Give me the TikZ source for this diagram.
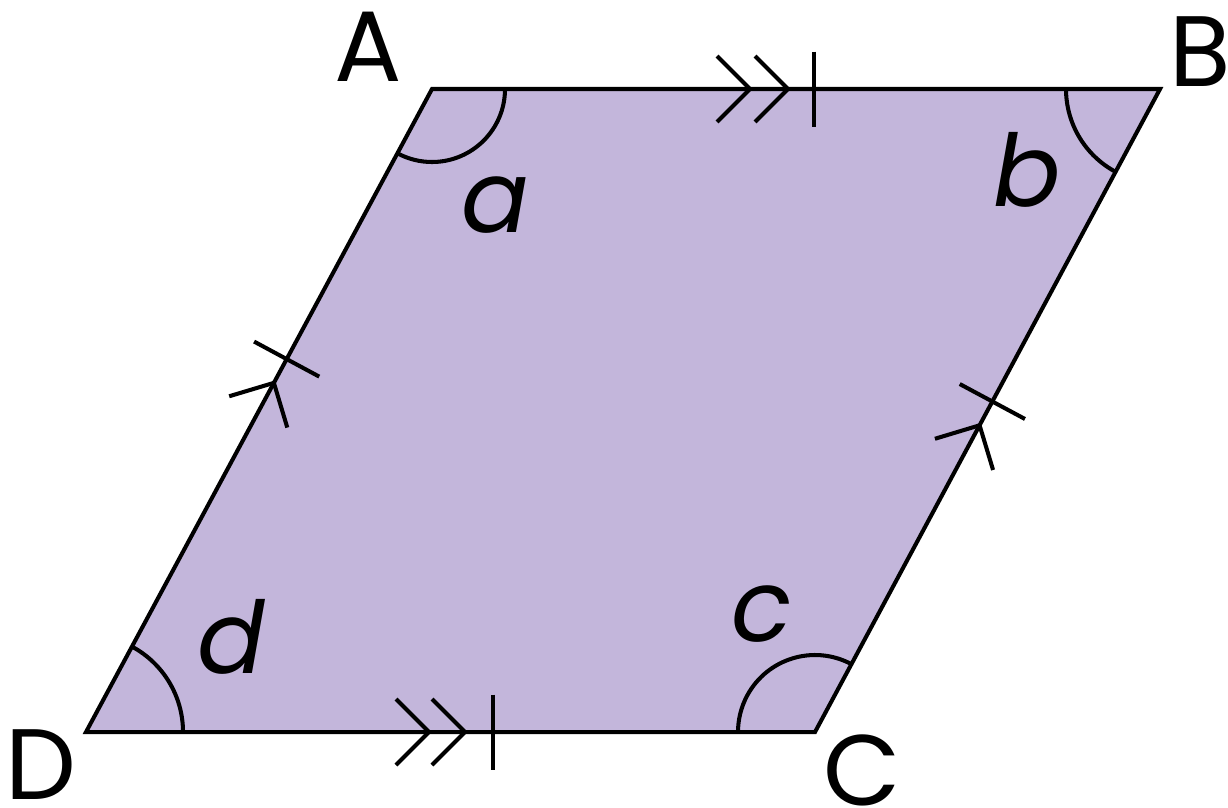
\documentclass[tikz,border=0pt]{standalone}
\usepackage{fontspec}
\setmainfont{Poppins}
\usetikzlibrary{calc}
\definecolor{lav}{RGB}{195,182,219}
\tikzset{
  edge/.style={line width=1.15pt, line join=miter},
  tickmark/.style={line width=1.15pt},
  anglearc/.style={line width=1.15pt},
  vlabel/.style={inner sep=0pt, font=\fontsize{28.5}{30}\selectfont},
  alabel/.style={inner sep=0pt, font=\fontsize{28.5}{30}\selectfont\itshape},
}
\begin{document}
\begin{tikzpicture}
\useasboundingbox (0,0) rectangle (12.28,8.07);
\coordinate (A) at (4.32,7.18);
\coordinate (B) at (11.60,7.18);
\coordinate (C) at (8.15,0.75);
\coordinate (D) at (0.86,0.75);
\fill[lav] (A) -- (B) -- (C) -- (D) -- cycle;
% angle arcs
\draw[anglearc] ($(A)+(0.73,0)$) arc[start angle=0, end angle=-118.3, radius=0.73];
\draw[anglearc] ($(B)+(-0.94,0)$) arc[start angle=180, end angle=241.8, radius=0.94];
\draw[anglearc] ($(C)+(61.8:0.77)$) arc[start angle=61.8, end angle=180, radius=0.77];
\draw[anglearc] ($(D)+(0.97,0)$) arc[start angle=0, end angle=61.7, radius=0.97];
\draw[edge] (A) -- (B) -- (C) -- (D) -- cycle;
% marks on AB
\coordinate (mab) at (7.50,7.18);
\begin{scope}[shift={(mab)}]
  \draw[tickmark] (-0.33,0.33) -- (0,0) -- (-0.33,-0.33);
  \draw[tickmark] (0.05,0.33) -- (0.38,0) -- (0.05,-0.33);
  \draw[tickmark] (0.64,0.375) -- (0.64,-0.375);
\end{scope}
% marks on DC
\coordinate (mdc) at (4.29,0.75);
\begin{scope}[shift={(mdc)}]
  \draw[tickmark] (-0.33,0.33) -- (0,0) -- (-0.33,-0.33);
  \draw[tickmark] (0.03,0.33) -- (0.36,0) -- (0.03,-0.33);
  \draw[tickmark] (0.64,0.375) -- (0.64,-0.375);
\end{scope}
% marks on AD
\coordinate (mad) at ($(D)!0.543!(A)$);
\begin{scope}[shift={(mad)}, rotate=61.7]
  \draw[tickmark] (-0.33,0.33) -- (0,0) -- (-0.33,-0.33);
  \draw[tickmark] (0.27,0.37) -- (0.27,-0.37);
\end{scope}
% marks on BC
\coordinate (mbc) at ($(C)!0.477!(B)$);
\begin{scope}[shift={(mbc)}, rotate=61.8]
  \draw[tickmark] (-0.33,0.33) -- (0,0) -- (-0.33,-0.33);
  \draw[tickmark] (0.27,0.37) -- (0.27,-0.37);
\end{scope}
% vertex labels
\node[vlabel] (lA) at (3.68,7.60) {A};
\node[vlabel] (lB) at (12.00,7.55) {B};
\node[vlabel] (lC) at (8.62,0.37) {C};
\node[vlabel] (lD) at (0.41,0.42) {D};
% angle labels
\node[alabel] (la) at (4.95,6.02) {a};
\node[alabel] (lb) at (10.27,6.37) {b};
\node[alabel] (lc) at (7.62,1.93) {c};
\node[alabel] (ld) at (2.31,1.70) {d};
\end{tikzpicture}
\end{document}
